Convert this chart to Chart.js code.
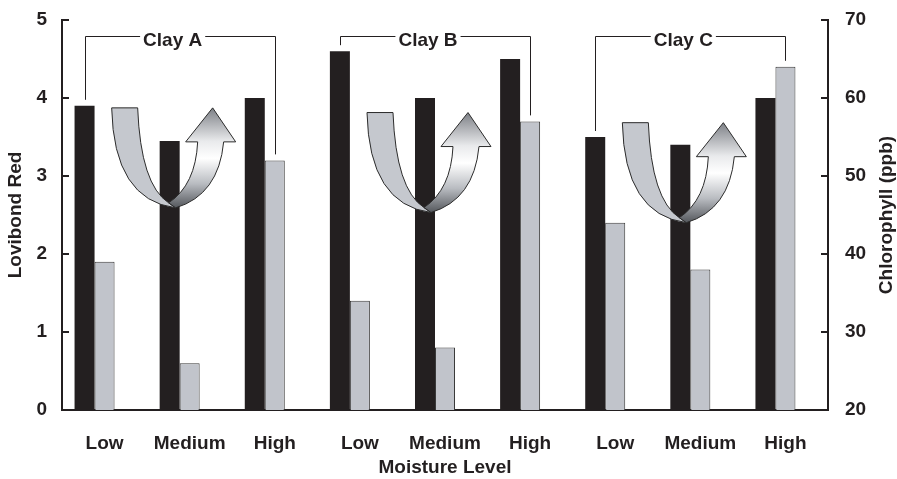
<!DOCTYPE html>
<html>
<head>
<meta charset="utf-8">
<script src="https://cdn.jsdelivr.net/npm/chart.js@4.4.0/dist/chart.umd.min.js"></script>
<style>
  html, body { margin: 0; padding: 0; background: #fff; }
</style>
</head>
<body>
<canvas id="chart" width="897" height="479"></canvas>
<script>
const categories = ['Low', 'Medium', 'High', 'Low', 'Medium', 'High', 'Low', 'Medium', 'High'];
const lovibondRed = [3.9, 3.45, 4.0, 4.6, 4.0, 4.5, 3.5, 3.4, 4.0];
const chlorophyll = [39, 26, 52, 34, 28, 57, 44, 38, 64];
const spacer = [0, 0, 0, 0, 0, 0, 0, 0, 0];
const clays = ['Clay A', 'Clay B', 'Clay C'];
const leftTicks = [0, 1, 2, 3, 4, 5];
const rightTicks = [20, 30, 40, 50, 60, 70];
const arrowLevel = [2.63, 2.57, 2.44];   // bottom of each U arrow, on the left scale
const bracketLevel = 4.8;

const INK = '#231f20';
const FONT = 'Arial, "Liberation Sans", Helvetica, sans-serif';

// U shaped arrow, drawn around (ox, oy) = bottom of the U
function drawArrow(ctx, ox, oy) {
  ctx.save();
  ctx.translate(ox, oy);
  ctx.lineWidth = 1;
  ctx.strokeStyle = '#2b2b2b';
  ctx.lineJoin = 'round';

  // left arm, flat gray
  ctx.beginPath();
  ctx.moveTo(-57, -97);
  ctx.lineTo(-31, -97);
  ctx.quadraticCurveTo(-28, -20, 0, -2);
  ctx.lineTo(7, 3);
  ctx.quadraticCurveTo(-55, -5, -57, -97);
  ctx.closePath();
  ctx.fillStyle = '#c5c8ce';
  ctx.fill();
  ctx.stroke();

  // right arm with head, shaded
  const g = ctx.createLinearGradient(0, -97, 0, 4);
  g.addColorStop(0, '#7d8086');
  g.addColorStop(0.33, '#e9eaec');
  g.addColorStop(0.5, '#ffffff');
  g.addColorStop(0.75, '#b9bcc1');
  g.addColorStop(1, '#505358');
  ctx.beginPath();
  ctx.moveTo(0, -2);
  ctx.quadraticCurveTo(27, -20, 29, -63);
  ctx.lineTo(17, -63);
  ctx.lineTo(44, -97);
  ctx.lineTo(67, -63);
  ctx.lineTo(55, -63);
  ctx.quadraticCurveTo(50, -10, 7, 3);
  ctx.closePath();
  ctx.fillStyle = g;
  ctx.fill();
  ctx.stroke();
  ctx.restore();
}

const decorations = {
  id: 'decorations',
  afterDatasetsDraw(chart) {
    const ctx = chart.ctx;
    const area = chart.chartArea;
    const yL = chart.scales.y;
    const yR = chart.scales.y2;
    const black = chart.getDatasetMeta(0).data;
    const gray = chart.getDatasetMeta(1).data;

    // inward tick marks
    ctx.save();
    ctx.strokeStyle = INK;
    ctx.lineWidth = 2;
    leftTicks.forEach(v => {
      const y = Math.round(yL.getPixelForValue(v));
      ctx.beginPath();
      ctx.moveTo(area.left, y);
      ctx.lineTo(area.left + 7, y);
      ctx.stroke();
    });
    rightTicks.forEach(v => {
      const y = Math.round(yR.getPixelForValue(v));
      ctx.beginPath();
      ctx.moveTo(area.right - 7, y);
      ctx.lineTo(area.right, y);
      ctx.stroke();
    });
    ctx.restore();

    // arrows
    clays.forEach((name, g) => {
      const mid = black[g * 3 + 1];
      drawArrow(ctx, mid.x - 1, yL.getPixelForValue(arrowLevel[g]));
    });

    // brackets with clay labels
    ctx.save();
    ctx.strokeStyle = INK;
    ctx.lineWidth = 1;
    ctx.fillStyle = INK;
    ctx.font = 'bold 19px ' + FONT;
    ctx.textAlign = 'center';
    ctx.textBaseline = 'alphabetic';
    const yLine = Math.round(yL.getPixelForValue(bracketLevel)) + 0.5;
    clays.forEach((name, g) => {
      const left = black[g * 3];
      const right = gray[g * 3 + 2];
      const mid = black[g * 3 + 1];
      const xL = Math.round(left.x) + 0.5;
      const xR = Math.round(right.x) + 0.5;
      const tx = mid.x + 3;
      const w = ctx.measureText(name).width;
      ctx.beginPath();
      ctx.moveTo(xL, left.y - 6);
      ctx.lineTo(xL, yLine);
      ctx.lineTo(tx - w / 2 - 3, yLine);
      ctx.moveTo(tx + w / 2 + 3, yLine);
      ctx.lineTo(xR, yLine);
      ctx.lineTo(xR, right.y - 6);
      ctx.stroke();
      ctx.fillText(name, tx, yLine + 9.5);
    });
    ctx.restore();
  },
  afterDraw(chart) {
    const ctx = chart.ctx;
    const area = chart.chartArea;
    ctx.save();
    ctx.fillStyle = INK;
    ctx.font = 'bold 19px ' + FONT;
    ctx.textAlign = 'center';
    ctx.textBaseline = 'middle';
    ctx.translate(887, (area.top + area.bottom) / 2);
    ctx.rotate(-Math.PI / 2);
    ctx.fillText('Chlorophyll (ppb)', 0, 0);
    ctx.restore();
  }
};

const tickFont = { family: FONT, size: 19, weight: 'bold' };
const titleFont = { family: FONT, size: 19, weight: 'bold' };

function fitY(width) {
  return s => {
    s.width = width;
    s.paddingTop = 0;
    s.paddingBottom = 0;
  };
}

new Chart(document.getElementById('chart').getContext('2d'), {
  type: 'bar',
  data: {
    labels: categories,
    datasets: [
      {
        label: 'Lovibond Red',
        data: lovibondRed,
        yAxisID: 'y',
        backgroundColor: INK,
        borderWidth: 0
      },
      {
        label: 'Chlorophyll (ppb)',
        data: chlorophyll,
        yAxisID: 'y2',
        backgroundColor: '#c1c4cb',
        borderColor: '#3a3a3a',
        borderWidth: 1
      },
      {
        label: '',
        data: spacer,
        yAxisID: 'y',
        backgroundColor: 'rgba(0,0,0,0)',
        borderWidth: 0
      }
    ]
  },
  options: {
    responsive: false,
    animation: false,
    layout: { padding: { top: 20, left: 0, right: 0, bottom: 0 } },
    datasets: { bar: { categoryPercentage: 0.705, barPercentage: 1 } },
    plugins: {
      legend: { display: false },
      tooltip: { enabled: false }
    },
    scales: {
      x: {
        grid: { display: false, drawTicks: false },
        border: { display: true, color: INK, width: 2 },
        ticks: { color: INK, font: tickFont, padding: 22, maxRotation: 0, autoSkip: false },
        title: { display: true, text: 'Moisture Level', color: INK, font: titleFont, padding: { top: 0, bottom: 0 } },
        afterFit: s => { s.height = 69; s.paddingLeft = 0; s.paddingRight = 0; }
      },
      y: {
        position: 'left',
        min: 0,
        max: 5,
        afterBuildTicks: s => { s.ticks = leftTicks.map(v => ({ value: v })); },
        grid: { display: false, drawTicks: false },
        border: { display: true, color: INK, width: 2 },
        ticks: { color: INK, font: tickFont, padding: 15 },
        title: { display: true, text: 'Lovibond Red', color: INK, font: titleFont, padding: { top: 4, bottom: 0 } },
        afterFit: fitY(62)
      },
      y2: {
        position: 'right',
        min: 20,
        max: 70,
        afterBuildTicks: s => { s.ticks = rightTicks.map(v => ({ value: v })); },
        grid: { display: false, drawTicks: false },
        border: { display: true, color: INK, width: 2 },
        ticks: { color: INK, font: tickFont, padding: 17 },
        afterFit: fitY(69)
      }
    }
  },
  plugins: [decorations]
});
</script>
</body>
</html>
